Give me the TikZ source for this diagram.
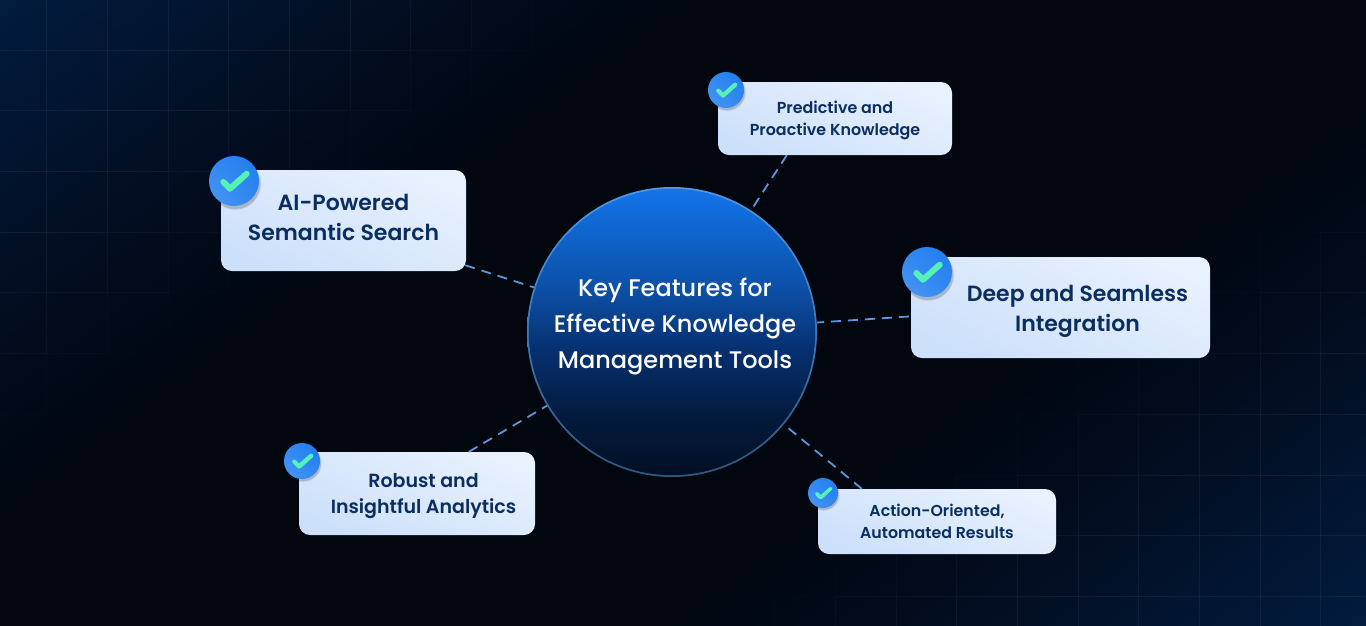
\documentclass[tikz,border=0pt]{standalone}
\usepackage{fontspec}
\usetikzlibrary{calc}
\setmainfont{Poppins}
\newfontfamily\popmed{Poppins Medium}
\newfontfamily\popsemi{Poppins SemiBold}
\definecolor{bgdark}{HTML}{01060F}
\definecolor{bgmid}{HTML}{021027}
\definecolor{bgnavy}{HTML}{021C3D}
\definecolor{ink}{HTML}{0A2E60}
\definecolor{cardA}{HTML}{E8F1FE}
\definecolor{cardB}{HTML}{CDE0FA}
\definecolor{dash}{HTML}{5C96DC}
\definecolor{tick}{HTML}{55F2B8}
\definecolor{badgeA}{HTML}{237FF0}
\definecolor{badgeB}{HTML}{4292F2}
\definecolor{hubT}{HTML}{1274EA}
\definecolor{hubM}{HTML}{0C4EA4}
\definecolor{hubL}{HTML}{073070}
\definecolor{hubD}{HTML}{031A3C}
\definecolor{hubB}{HTML}{020F24}
\definecolor{rimT}{HTML}{4C98E8}
\definecolor{rimB}{HTML}{2C5A82}
\pgfdeclarehorizontalshading{bgshade}{100bp}{
  color(0bp)=(bgnavy); color(29.5bp)=(bgnavy); color(35.5bp)=(bgmid); color(42.5bp)=(bgdark);
  color(57.5bp)=(bgdark); color(64.5bp)=(bgmid); color(70.5bp)=(bgnavy); color(100bp)=(bgnavy)}
\pgfdeclareverticalshading{hubshade}{100bp}{
  color(0bp)=(hubB); color(25bp)=(hubB); color(35bp)=(hubD); color(47bp)=(hubL); color(57bp)=(hubM); color(75bp)=(hubT); color(100bp)=(hubT)}
\pgfdeclareverticalshading{rimshade}{100bp}{
  color(0bp)=(rimB); color(25bp)=(rimB); color(75bp)=(rimT); color(100bp)=(rimT)}
\tikzset{
  card/.style={shade, shading=axis, left color=cardA, right color=cardB, shading angle=-25,
    rounded corners=11pt, inner sep=0pt, minimum width=#1},
  hubdisc/.style={circle, inner sep=0pt, shade, shading=hubshade},
  conn/.style={draw=dash, line width=1.8pt, dash pattern=on 10pt off 7pt},
  gridline/.style={draw=white, line width=1pt},
  hubtext/.style={text=white, align=center, font=\popmed\fontsize{24}{36}\selectfont},
  big/.style={text=ink, align=center, font=\popsemi\fontsize{22}{30}\selectfont},
  mid/.style={text=ink, align=center, font=\popsemi\fontsize{19}{26}\selectfont},
  small/.style={text=ink, align=center, font=\popsemi\fontsize{15.9}{22}\selectfont},
  tiny/.style={text=ink, align=center, font=\popsemi\fontsize{15.8}{22}\selectfont},
  badgedisc/.style={circle, inner sep=0pt, shade, shading=axis, left color=badgeA, right color=badgeB, shading angle=-45},
  tickmark/.style={draw=tick, line cap=round, line join=round},
}
\newcommand{\badgeat}[4]{% name, x, y, r
  \pgfmathsetmacro{\bs}{#4/25}
  \pgfmathsetmacro{\bd}{2*#4}
  \pgfmathsetmacro{\bw}{0.24*#4}
  \foreach \grow/\op in {1/0.05,0.4/0.07,0/0.09}{
    \fill[black, opacity=\op] ({#2+0.05*#4},{#3+0.12*#4}) circle ({#4+\grow});
  }
  \node[badgedisc, minimum size=\bd pt] (#1) at (#2,#3) {};
  \begin{scope}[shift={(#1.center)}]
    \draw[tickmark, line width=\bw pt] (-10.7*\bs,1*\bs) -- (-4*\bs,7.7*\bs) -- (12.7*\bs,-7.3*\bs);
  \end{scope}
}
\begin{document}
\begin{tikzpicture}[x=1pt,y=-1pt]
\useasboundingbox (0,0) rectangle (1366,625);
\begin{scope}
  \clip (0,0) rectangle (1366,625);
  \shade[shading=bgshade, shading angle=-53.5] (-117,-487.5) rectangle (1483,1112.5);
  \foreach \i in {0,...,21}{
    \pgfmathsetmacro{\gx}{46.7+60.67*\i}
    \foreach \j in {-1,...,9}{
      \pgfmathsetmacro{\gy}{50+60.74*\j}
      \pgfmathsetmacro{\tt}{\gx*0.594+(\gy+30.4)*0.804}
      \pgfmathsetmacro{\gl}{max(0,max((386-\tt)/386,(\tt-916)/397))}
      \pgfmathsetmacro{\al}{0.05*min(1,\gl*2.5)}
      \draw[gridline, draw opacity=\al] (\gx,\gy) -- (\gx,\gy+60.74);
    }
  }
  \foreach \j in {0,...,9}{
    \pgfmathsetmacro{\gy}{50+60.74*\j}
    \foreach \i in {-1,...,22}{
      \pgfmathsetmacro{\gx}{46.7+60.67*\i}
      \pgfmathsetmacro{\tt}{(\gx+30.3)*0.594+\gy*0.804}
      \pgfmathsetmacro{\gl}{max(0,max((386-\tt)/386,(\tt-916)/397))}
      \pgfmathsetmacro{\al}{0.05*min(1,\gl*2.5)}
      \draw[gridline, draw opacity=\al] (\gx,\gy) -- (\gx+60.67,\gy);
    }
  }
\end{scope}

% hub
\node[hubdisc, shading=rimshade, minimum size=290pt] (rim) at (672,332) {};
\node[hubdisc, minimum size=286.4pt] (hub) at (rim.center) {};
\node[hubtext] (hubtxt) at (675,326) {Key Features for\\Effective Knowledge\\Management Tools};

% cards
\node[card=245pt, minimum height=101pt] (ai) at (343.5,220.5) {};
\node[card=234pt, minimum height=73pt] (pred) at (835,118.5) {};
\node[card=299pt, minimum height=101pt] (deep) at (1060.5,307.5) {};
\node[card=236pt, minimum height=83pt] (rob) at (417,493.5) {};
\node[card=238pt, minimum height=65pt] (act) at (937,521.5) {};

% connectors
\coordinate (aiport) at ($(ai.south east)+(-1,-6)$);
\coordinate (predport) at ($(pred.south west)+(69,0)$);
\coordinate (deepport) at ($(deep.west)+(-2,9)$);
\coordinate (robport) at ($(rob.north west)+(170,0)$);
\coordinate (actport) at ($(act.north west)+(44,0)$);
\draw[conn] (aiport) -- (rim);
\draw[conn] (predport) -- (rim);
\draw[conn] (deepport) -- (rim);
\draw[conn] (robport) -- (rim);
\draw[conn] (actport) -- (rim);

% labels
\node[big] (aitxt) at (343.5,217) {AI-Powered\\Semantic Search};
\node[small] (predtxt) at (835,120) {Predictive and\\Proactive Knowledge};
\node[big] (deeptxt) at (1077.5,311) {Deep and Seamless\\Integration};
\node[mid] (robtxt) at (423.5,496) {Robust and\\Insightful Analytics};
\node[tiny] (acttxt) at (937,521) {Action-Oriented,\\Automated Results};

% badges
\badgeat{bai}{234}{181}{25}
\badgeat{bpred}{726}{90}{18}
\badgeat{bdeep}{927}{272}{25}
\badgeat{brob}{302}{461}{18}
\badgeat{bact}{823}{493}{15}
\end{tikzpicture}
\end{document}
